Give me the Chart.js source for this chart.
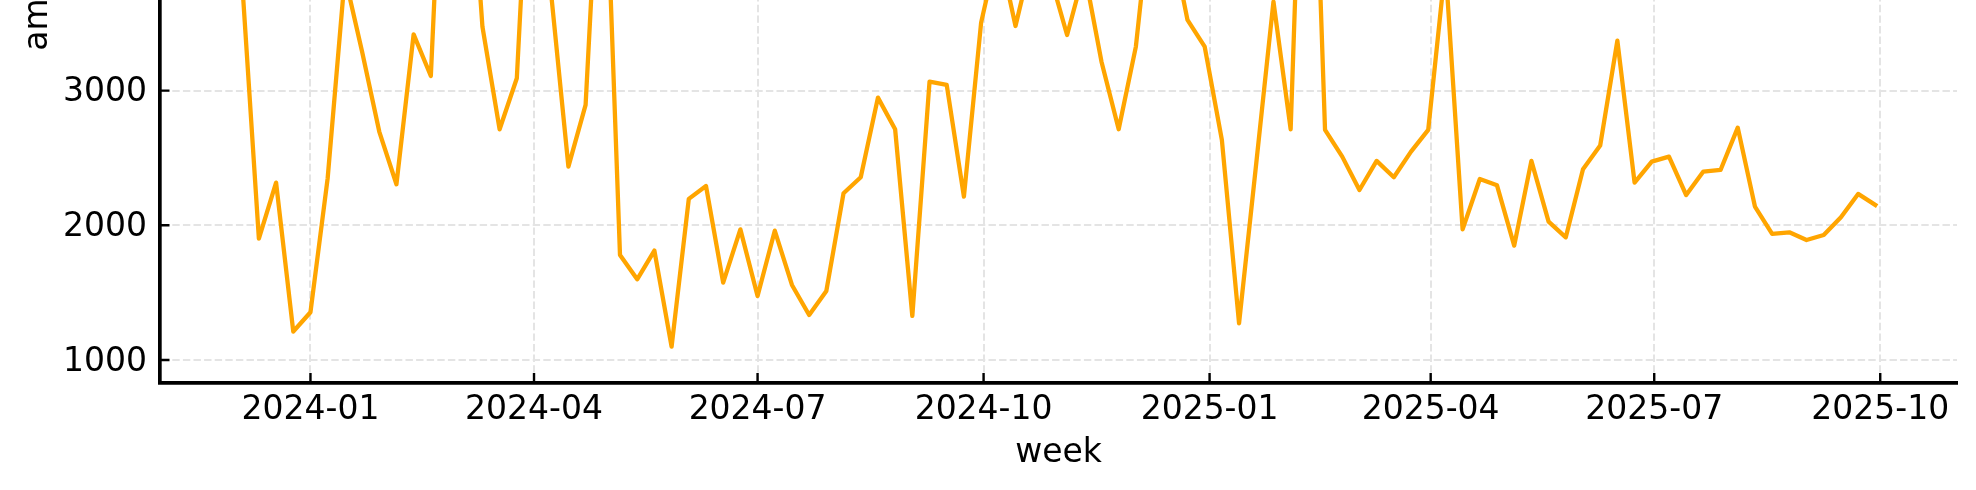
<!DOCTYPE html>
<html>
<head>
<meta charset="utf-8">
<script src="https://cdn.jsdelivr.net/npm/chart.js@4.4.1/dist/chart.umd.min.js"></script>
<style>
  html, body { margin: 0; padding: 0; background: #ffffff; overflow: hidden; width: 1976px; height: 490px; }
  #wrap { position: absolute; left: 0; top: -460px; width: 1976px; height: 950px; }
  canvas { display: block; }
</style>
</head>
<body>
<div id="wrap"><canvas id="chart" width="1976" height="950"></canvas></div>
<script>
// ---- data ----
const weeks = [
  '2023-12-04','2023-12-11','2023-12-18','2023-12-25',
  '2024-01-01','2024-01-08','2024-01-15','2024-01-22','2024-01-29',
  '2024-02-05','2024-02-12','2024-02-19','2024-02-26',
  '2024-03-04','2024-03-11','2024-03-18','2024-03-25',
  '2024-04-01','2024-04-08','2024-04-15','2024-04-22','2024-04-29',
  '2024-05-06','2024-05-13','2024-05-20','2024-05-27',
  '2024-06-03','2024-06-10','2024-06-17','2024-06-24',
  '2024-07-01','2024-07-08','2024-07-15','2024-07-22','2024-07-29',
  '2024-08-05','2024-08-12','2024-08-19','2024-08-26',
  '2024-09-02','2024-09-09','2024-09-16','2024-09-23','2024-09-30',
  '2024-10-07','2024-10-14','2024-10-21','2024-10-28',
  '2024-11-04','2024-11-11','2024-11-18','2024-11-25',
  '2024-12-02','2024-12-09','2024-12-16','2024-12-23','2024-12-30',
  '2025-01-06','2025-01-13','2025-01-20','2025-01-27',
  '2025-02-03','2025-02-10','2025-02-17','2025-02-24',
  '2025-03-03','2025-03-10','2025-03-17','2025-03-24','2025-03-31',
  '2025-04-07','2025-04-14','2025-04-21','2025-04-28',
  '2025-05-05','2025-05-12','2025-05-19','2025-05-26',
  '2025-06-02','2025-06-09','2025-06-16','2025-06-23','2025-06-30',
  '2025-07-07','2025-07-14','2025-07-21','2025-07-28',
  '2025-08-04','2025-08-11','2025-08-18','2025-08-25',
  '2025-09-01','2025-09-08','2025-09-15','2025-09-22','2025-09-29'
];
const amounts = [
  3860, 1901, 2317, 1211, 1354, 2349, 3850, 3290, 2696, 2305,
  3418, 3109, 5900, 5300, 3475, 2713, 3092, 5550, 3715, 2436,
  2894, 5320, 1780, 1599, 1812, 1099, 2196, 2292, 1574, 1970,
  1475, 1960, 1557, 1334, 1513, 2238, 2357, 2948, 2713, 1327,
  3067, 3042, 2213, 3505, 4070, 3480, 4017, 3861, 3413, 3890,
  3215, 2713, 3327, 4510, 4163, 3525, 3327, 2634, 1272, 2460,
  3661, 2713, 6440, 2708, 2510, 2262, 2478, 2357, 2547, 2708,
  3930, 1970, 2344, 2297, 1849, 2478, 2027, 1911, 2416, 2592,
  3371, 2317, 2473, 2510, 2225, 2399, 2411, 2725, 2139, 1936,
  1948, 1891, 1928, 2060, 2233, 2151
];
const xTickLabels = ['2024-01','2024-04','2024-07','2024-10','2025-01','2025-04','2025-07','2025-10'];
const yTickValues = [1000, 2000, 3000, 4000, 5000, 6000];
const xTitle = 'week';
const yTitle = 'amount';

// ---- helpers ----
const toDay = s => { const p = s.split('-').map(Number); return Date.UTC(p[0], p[1] - 1, p[2] || 1) / 864e5; };
const points = weeks.map((w, i) => ({ x: toDay(w), y: amounts[i] }));
const xsD = points.map(p => p.x);
const xMinD = Math.min(...xsD), xMaxD = Math.max(...xsD), xSpan = xMaxD - xMinD;
const yMinD = Math.min(...amounts), yMaxD = Math.max(...amounts), ySpan = yMaxD - yMinD;
const MARGIN = 0.05;

const FONT = 'DejaVu Sans';
Chart.defaults.font.family = FONT;
Chart.defaults.color = '#000000';

const inwardTicks = {
  id: 'inwardTicks',
  afterDatasetsDraw(chart) {
    const { ctx, chartArea: a, scales } = chart;
    ctx.save();
    ctx.strokeStyle = '#000000';
    ctx.lineWidth = 2.4;
    ctx.beginPath();
    scales.x.ticks.forEach(t => {
      const px = scales.x.getPixelForValue(t.value);
      ctx.moveTo(px, a.bottom); ctx.lineTo(px, a.bottom - 9.5);
    });
    scales.y.ticks.forEach(t => {
      const py = scales.y.getPixelForValue(t.value);
      ctx.moveTo(a.left, py); ctx.lineTo(a.left + 9.5, py);
    });
    ctx.stroke();
    ctx.restore();
  }
};

const gridColor = '#e4e4e4';

new Chart(document.getElementById('chart'), {
  type: 'line',
  data: {
    datasets: [{
      label: yTitle,
      data: points,
      borderColor: '#ffa500',
      backgroundColor: '#ffa500',
      borderWidth: 4.3,
      pointRadius: 0,
      pointHoverRadius: 0,
      tension: 0,
      fill: false,
      borderJoinStyle: 'round',
      borderCapStyle: 'square'
    }]
  },
  options: {
    responsive: false,
    devicePixelRatio: 1,
    animation: false,
    events: [],
    layout: { padding: { top: 51.4, right: 19, bottom: 0, left: 0 } },
    plugins: { legend: { display: false }, tooltip: { enabled: false } },
    scales: {
      x: {
        type: 'linear',
        min: xMinD - MARGIN * xSpan,
        max: xMaxD + MARGIN * xSpan,
        afterBuildTicks: s => { s.ticks = xTickLabels.map(l => ({ value: toDay(l) })); },
        afterFit: s => { s.height = 107.4; },
        grid: { color: gridColor, lineWidth: 2, drawTicks: false },
        border: { display: true, color: '#000000', width: 3.7, dash: [7.4, 3.2] },
        ticks: {
          font: { family: FONT, size: 33 }, color: '#000000', padding: 8.5,
          maxRotation: 0, autoSkip: false,
          callback: (v, i) => xTickLabels[i]
        },
        title: {
          display: true, text: xTitle, color: '#000000',
          font: { family: FONT, size: 33 }, padding: { top: 0, bottom: 17.0 }
        }
      },
      y: {
        type: 'linear',
        min: yMinD - MARGIN * ySpan,
        max: yMaxD + MARGIN * ySpan,
        afterBuildTicks: s => { s.ticks = yTickValues.map(v => ({ value: v })); },
        afterFit: s => { s.width = 160; },
        grid: { color: gridColor, lineWidth: 2, drawTicks: false },
        border: { display: true, color: '#000000', width: 3.7, dash: [7.4, 3.2] },
        ticks: {
          font: { family: FONT, size: 33 }, color: '#000000', padding: 13,
          labelOffset: 2,
          callback: v => String(v)
        },
        title: {
          display: true, text: yTitle, color: '#000000',
          font: { family: FONT, size: 33 }, padding: { top: 18.6, bottom: 0 }
        }
      }
    }
  },
  plugins: [inwardTicks]
});
</script>
</body>
</html>
